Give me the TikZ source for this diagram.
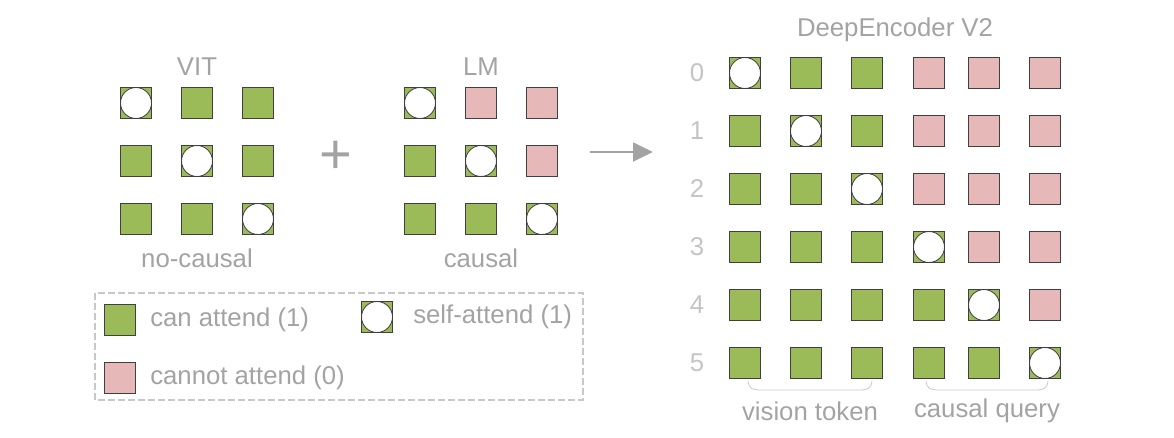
\documentclass[tikz,border=0pt]{standalone}
\usepackage{fontspec}
\setmainfont{Liberation Sans}
\usetikzlibrary{arrows.meta}
\definecolor{cangreen}{HTML}{9BBB59}
\definecolor{cannotpink}{HTML}{E6B9B8}
\definecolor{txtgray}{HTML}{A3A3A3}
\definecolor{numgray}{HTML}{C4C4C4}
\definecolor{boxgray}{HTML}{C8C8C8}
\tikzset{
	cell/.style={draw=black!75,line width=0.9pt,minimum size=23.2pt,inner sep=0pt},
	can/.style={cell,fill=cangreen},
	cannot/.style={cell,fill=cannotpink},
	selfatt/.style={can,path picture={\draw[fill=white,line width=0.6pt]
		(path picture bounding box.center) circle[radius=11.6pt];}},
	lbl/.style={text=txtgray,font=\fontsize{19.3}{21}\selectfont,inner sep=0pt},
}
\begin{document}
\begin{tikzpicture}[x=0.75pt,y=-0.75pt]
	\useasboundingbox (0,0) rectangle (1174,437);
	% VIT
	\foreach \r/\y in {1/103,2/161,3/219}
	\foreach \c/\x in {1/136,2/197,3/258}{
		\ifnum\r=\c \node[selfatt](vit-\r-\c) at (\x,\y){};
		\else \node[can](vit-\r-\c) at (\x,\y){};\fi}
	\node[lbl](vit) at (197,67){VIT};
	\node[lbl](vit-note) at (197,258){no-causal};
	\node[text=txtgray,font=\fontsize{42}{42}\selectfont,inner sep=0pt](plus) at (336,157){+};
	% LM
	\foreach \r/\y in {1/103,2/161,3/219}
	\foreach \c/\x in {1/420,2/481,3/542}{
		\ifnum\c=\r \node[selfatt](lm-\r-\c) at (\x,\y){};
		\else\ifnum\c>\r \node[cannot](lm-\r-\c) at (\x,\y){};
		\else \node[can](lm-\r-\c) at (\x,\y){};\fi\fi}
	\node[lbl](lm) at (481,67){LM};
	\node[lbl](lm-note) at (481,258){causal};
	% legend
	\draw[boxgray,line width=0.8pt,dash pattern=on 5pt off 2.5pt] (95,293) rectangle (583,400);
	\node[can](leg-can) at (120,320){};
	\node[lbl,anchor=west](leg-can-t) at (150,320){can attend (1)};
	\node[selfatt](leg-self) at (377,317){};
	\node[lbl,anchor=west](leg-self-t) at (413,317){self-attend (1)};
	\node[cannot](leg-cannot) at (120,378){};
	\node[lbl,anchor=west](leg-cannot-t) at (150,378){cannot attend (0)};
	% arrow
	\coordinate (arr-s) at (590,152);
	\coordinate (arr-e) at (653,152);
	\draw[-{Triangle[length=15pt,width=14pt]},txtgray,line width=2.2pt] (arr-s)--(arr-e);
	% DeepEncoder V2
	\node[lbl](de) at (895,30){DeepEncoder V2};
	\foreach \r/\y in {0/73,1/131,2/189,3/247,4/305,5/363}{
		\node[text=numgray,font=\fontsize{19.3}{21}\selectfont,inner sep=0pt](row-\r) at (697,\y){\r};
		\pgfmathtruncatemacro\d{\r+1}
		\foreach \c/\x in {1/745,2/806,3/867,4/929,5/984,6/1045}{
			\ifnum\c=\d \node[selfatt](de-\r-\c) at (\x,\y){};
			\else\ifnum\c<4 \node[can](de-\r-\c) at (\x,\y){};
			\else\ifnum\c<\d \node[can](de-\r-\c) at (\x,\y){};
			\else \node[cannot](de-\r-\c) at (\x,\y){};\fi\fi\fi}}
	\draw[boxgray,line width=0.6pt] (748,381) .. controls (749,389) and (752,390) .. (762,390)
		-- (858,390) .. controls (868,390) and (871,389) .. (872,381);
	\draw[boxgray,line width=0.6pt] (926,381) .. controls (927,389) and (930,390) .. (940,390)
		-- (1034,390) .. controls (1044,390) and (1047,389) .. (1048,381);
	\node[lbl](vis) at (810,411){vision token};
	\node[lbl](cq) at (987,411){causal query};
\end{tikzpicture}
\end{document}
